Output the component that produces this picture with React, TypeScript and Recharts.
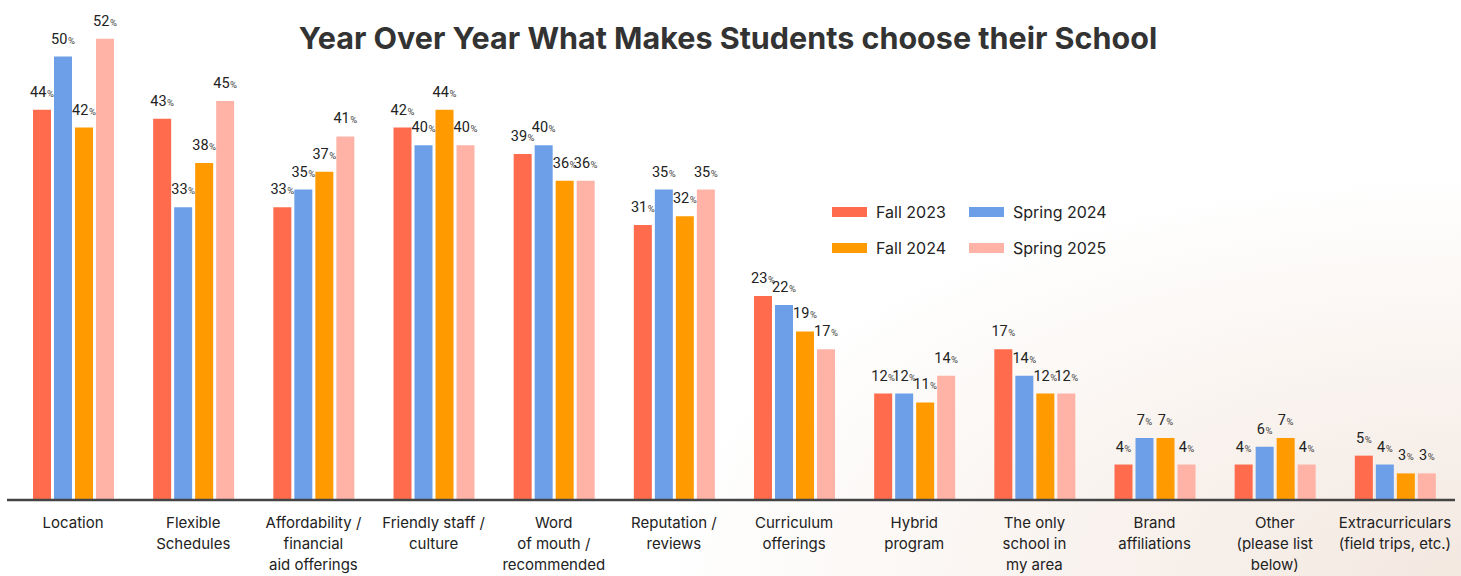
import React from 'react';
import { BarChart, Bar, XAxis, YAxis, LabelList, Legend } from 'recharts';

const categories = [
  'Location',
  'Flexible\nSchedules',
  'Affordability /\nfinancial\naid offerings',
  'Friendly staff /\nculture',
  'Word\nof mouth /\nrecommended',
  'Reputation /\nreviews',
  'Curriculum\nofferings',
  'Hybrid\nprogram',
  'The only\nschool in\nmy area',
  'Brand\naffiliations',
  'Other\n(please list\nbelow)',
  'Extracurriculars\n(field trips, etc.)',
];

const fall2023 = [44, 43, 33, 42, 39, 31, 23, 12, 17, 4, 4, 5];
const spring2024 = [50, 33, 35, 40, 40, 35, 22, 12, 14, 7, 6, 4];
const fall2024 = [42, 38, 37, 44, 36, 32, 19, 11, 12, 7, 7, 3];
const spring2025 = [52, 45, 41, 40, 36, 35, 17, 14, 12, 4, 4, 3];

const seriesNames = ['Fall 2023', 'Spring 2024', 'Fall 2024', 'Spring 2025'];
const seriesKeys = ['f23', 's24', 'f24', 's25'];
const seriesColors = ['#FF6B4D', '#6C9FE8', '#FF9A00', '#FFB3A7'];

const data = categories.map((c, i) => ({
  name: c,
  f23: fall2023[i],
  s24: spring2024[i],
  f24: fall2024[i],
  s25: spring2025[i],
}));

const FONT = 'Inter, "Noto Sans", sans-serif';
const NUMFONT = 'Roboto, Inter, sans-serif';

const ValueLabel = (props: any) => {
  const { x, y, width, value } = props;
  return (
    <text
      x={Number(x) + Number(width) / 2}
      y={Number(y) - 13}
      textAnchor="middle"
      fill="#222"
      fontFamily={NUMFONT}
    >
      <tspan fontSize={14.5}>{value}</tspan>
      <tspan fontSize={9.5} dx={0.5} fill="#444">%</tspan>
    </text>
  );
};

const CategoryTick = (props: any) => {
  const { x, y, payload } = props;
  const lines = String(payload.value).split('\n');
  return (
    <text x={x} y={y} textAnchor="middle" fill="#222" fontFamily={FONT} fontSize={15}>
      {lines.map((l: string, i: number) => (
        <tspan key={i} x={x} y={Number(y) + 20 + i * 21}>
          {l}
        </tspan>
      ))}
    </text>
  );
};

const LegendContent = () => {
  const rows = [
    [0, 1],
    [2, 3],
  ];
  return (
    <div style={{ fontFamily: FONT, fontSize: 16, color: '#222', whiteSpace: 'nowrap' }}>
      {rows.map((r, ri) => (
        <div key={ri} style={{ display: 'flex', height: 36, alignItems: 'center' }}>
          {r.map((si) => (
            <div key={si} style={{ display: 'flex', alignItems: 'center', width: 137 }}>
              <div style={{ width: 35, height: 10, background: seriesColors[si], marginRight: 9, flexShrink: 0 }} />
              <span>{seriesNames[si]}</span>
            </div>
          ))}
        </div>
      ))}
    </div>
  );
};

export default function App() {
  return (
    <div
      style={{
        position: 'absolute',
        left: 0,
        top: 0,
        width: 1461,
        height: 576,
        background:
          'radial-gradient(ellipse 55% 70% at 100% 100%, #f3e8e0 0%, #f8f1ec 40%, #ffffff 100%)',
      }}
    >
      <div
        style={{
          position: 'absolute',
          left: 0,
          top: 19,
          width: 1456,
          textAlign: 'center',
          fontFamily: FONT,
          fontWeight: 700,
          fontSize: 30.5,
          lineHeight: '38px',
          letterSpacing: 0,
          color: '#333',
        }}
      >
        Year Over Year What Makes Students choose their School
      </div>
      <BarChart
        width={1461}
        height={576}
        data={data}
        margin={{ top: 10, right: 6, bottom: 0, left: 7 }}
        barSize={18}
        barGap={3}
      >
        <XAxis
          dataKey="name"
          interval={0}
          tickLine={false}
          axisLine={{ stroke: '#444', strokeWidth: 2.5 }}
          tick={<CategoryTick />}
          padding={{ left: 6, right: 0 }}
          height={76}
        />
        <YAxis
          width={0}
          domain={[0, 55.25]}
          tick={false}
          tickLine={false}
          axisLine={{ stroke: '#3a3a3a', strokeWidth: 3 }}
        />
        <Legend
          layout="vertical"
          align="center"
          verticalAlign="middle"
          content={<LegendContent />}
          wrapperStyle={{ left: 832, top: 194, width: 300 }}
        />
        {seriesKeys.map((k, i) => (
          <Bar key={k} dataKey={k} name={seriesNames[i]} fill={seriesColors[i]} isAnimationActive={false}>
            <LabelList dataKey={k} content={<ValueLabel />} />
          </Bar>
        ))}
      </BarChart>
    </div>
  );
}
